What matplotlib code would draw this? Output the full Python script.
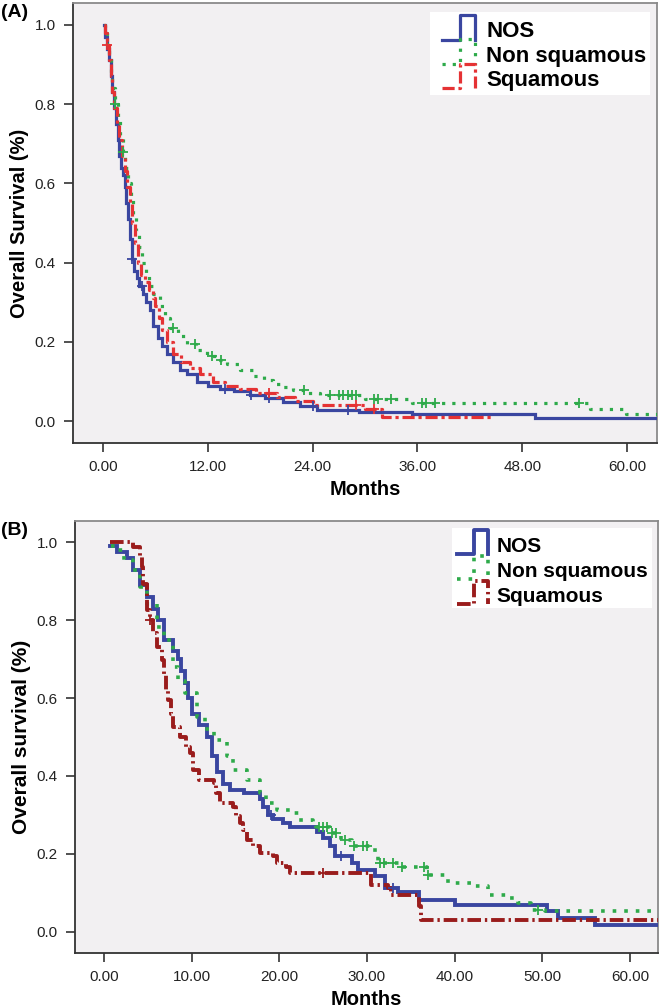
import numpy as np
import matplotlib
matplotlib.use("Agg")
import matplotlib.pyplot as plt
from matplotlib.legend_handler import HandlerBase
from matplotlib.lines import Line2D
from matplotlib.patches import Rectangle

plt.rcParams['font.family'] = ['Liberation Sans', 'DejaVu Sans']

# ---------------- data: panel A ----------------
a_nos_t = [0.2, 0.3, 0.5, 0.7, 0.9, 1.1, 1.3, 1.5, 1.7, 1.9, 2.1, 2.3, 2.5, 2.7, 2.9, 3.1, 3.3, 3.6, 3.9, 4.2,
           4.6, 5.0, 5.4, 5.8, 6.3, 6.8, 7.4, 8.0, 8.8, 9.6, 10.8, 12.0, 13.4, 15.0, 16.8, 18.6, 20.6, 22.6, 24.5,
           29.3, 35.4, 49.4, 64.0]
a_nos_s = [1.0, 0.97, 0.94, 0.91, 0.87, 0.83, 0.79, 0.75, 0.71, 0.67, 0.64, 0.62, 0.59, 0.55, 0.51, 0.46, 0.41,
           0.38, 0.36, 0.34, 0.32, 0.30, 0.28, 0.24, 0.21, 0.19, 0.17, 0.15, 0.13, 0.12, 0.10, 0.09, 0.08, 0.075,
           0.065, 0.058, 0.048, 0.038, 0.028, 0.022, 0.017, 0.008, 0.008]
a_non_t = [0.2, 0.3, 0.5, 0.7, 0.9, 1.1, 1.4, 1.7, 2.0, 2.3, 2.6, 2.9, 3.2, 3.5, 3.8, 4.1, 4.5, 4.9, 5.3, 5.8,
           6.5, 7.1, 7.7, 8.6, 9.6, 10.7, 11.9, 13.0, 14.2, 15.7, 17.2, 18.4, 19.5, 20.6, 21.8, 23.3, 24.9, 30.0,
           35.4, 55.7, 59.8, 64.0]
a_non_s = [1.0, 0.98, 0.95, 0.92, 0.88, 0.84, 0.80, 0.76, 0.72, 0.68, 0.64, 0.60, 0.56, 0.52, 0.48, 0.44, 0.40,
           0.37, 0.34, 0.32, 0.29, 0.26, 0.235, 0.215, 0.195, 0.18, 0.165, 0.155, 0.145, 0.13, 0.115, 0.105, 0.095,
           0.087, 0.078, 0.072, 0.065, 0.057, 0.045, 0.03, 0.018, 0.018]
a_sq_t = [0.2, 0.3, 0.5, 0.7, 0.9, 1.1, 1.3, 1.6, 1.9, 2.2, 2.5, 2.8, 3.1, 3.4, 3.7, 4.0, 4.4, 4.8, 5.3, 5.7,
          6.0, 6.4, 6.8, 7.3, 8.0, 9.0, 10.0, 11.1, 12.6, 14.0, 15.7, 17.5, 19.9, 22.0, 24.0, 30.0, 32.0, 44.5]
a_sq_s = [1.0, 0.98, 0.95, 0.91, 0.87, 0.83, 0.79, 0.75, 0.71, 0.67, 0.63, 0.59, 0.55, 0.50, 0.45, 0.40, 0.37,
          0.35, 0.33, 0.31, 0.29, 0.26, 0.23, 0.20, 0.17, 0.15, 0.135, 0.12, 0.10, 0.09, 0.08, 0.07, 0.06, 0.05,
          0.04, 0.03, 0.01, 0.01]
a_nos_cens = [3.3, 4.5, 14.0, 17.0, 19.0, 24.0, 28.0]
a_non_cens = [1.4, 2.3, 8.0, 10.5, 12.5, 13.5, 23.0, 26.0, 27.0, 27.5, 28.0, 28.5, 29.0, 31.0, 31.5, 33.0,
              36.5, 37.0, 38.0, 54.5]
a_sq_cens = [0.5, 19.0, 29.0, 31.0]

# ---------------- data: panel B ----------------
b_nos_t = [0.7, 1.5, 2.6, 3.3, 4.1, 4.9, 5.6, 6.2, 6.8, 7.9, 8.4, 8.8, 9.2, 9.6, 10.0, 10.9, 11.7, 12.3, 12.9,
           13.6, 14.4, 16.0, 17.8, 18.1, 18.7, 19.3, 20.4, 21.2, 24.3, 25.0, 25.8, 26.4, 28.3, 29.0, 30.9, 32.1,
           33.6, 35.9, 40.1, 50.5, 51.8, 56.0, 64.0]
b_nos_s = [0.99, 0.975, 0.96, 0.93, 0.89, 0.86, 0.83, 0.80, 0.75, 0.72, 0.70, 0.67, 0.64, 0.60, 0.56, 0.53,
           0.50, 0.45, 0.41, 0.38, 0.365, 0.355, 0.34, 0.32, 0.30, 0.29, 0.28, 0.27, 0.255, 0.24, 0.22, 0.193,
           0.175, 0.159, 0.142, 0.112, 0.103, 0.082, 0.069, 0.052, 0.035, 0.018, 0.018]
b_non_t = [0.8, 1.4, 2.3, 3.3, 4.1, 4.9, 6.0, 6.8, 7.9, 8.5, 9.2, 10.6, 11.5, 12.5, 14.0, 14.7, 16.3, 17.8,
           18.5, 19.7, 21.2, 22.3, 23.9, 25.8, 27.0, 28.3, 30.9, 31.3, 33.9, 36.9, 39.2, 41.9, 43.8, 46.1, 47.2,
           48.7, 50.3, 64.0]
b_non_s = [0.99, 0.98, 0.955, 0.928, 0.885, 0.843, 0.783, 0.749, 0.68, 0.645, 0.612, 0.552, 0.52, 0.492, 0.45,
           0.415, 0.39, 0.356, 0.33, 0.313, 0.304, 0.287, 0.27, 0.253, 0.235, 0.219, 0.202, 0.176, 0.167, 0.146,
           0.125, 0.117, 0.095, 0.086, 0.074, 0.056, 0.052, 0.052]
b_sq_t = [0.7, 3.3, 4.1, 4.3, 4.5, 4.9, 5.2, 5.6, 6.0, 6.6, 6.8, 7.1, 7.3, 7.6, 7.9, 8.7, 9.4, 9.8, 10.2, 10.9,
          12.5, 12.8, 13.2, 14.7, 15.1, 15.5, 15.9, 16.3, 17.0, 17.8, 19.3, 19.7, 20.8, 21.2, 30.5, 32.4, 32.7,
          35.9, 36.2, 64.0]
b_sq_s = [1.0, 0.988, 0.962, 0.937, 0.894, 0.826, 0.80, 0.766, 0.731, 0.697, 0.663, 0.62, 0.595, 0.56, 0.526,
          0.50, 0.475, 0.458, 0.415, 0.39, 0.381, 0.356, 0.33, 0.321, 0.296, 0.279, 0.262, 0.236, 0.219, 0.202,
          0.193, 0.176, 0.167, 0.15, 0.12, 0.112, 0.095, 0.065, 0.031, 0.031]
b_nos_cens = [19.0, 27.0, 33.0]
b_non_cens = [24.5, 25.0, 25.5, 26.0, 26.5, 27.5, 28.5, 29.5, 30.0, 31.5, 32.0, 33.0, 34.0, 36.5, 37.0, 49.5]
b_sq_cens = [5.3, 25.0]

labels = ["NOS", "Non squamous", "Squamous"]
a_xticks = [0, 12, 24, 36, 48, 60]
b_xticks = [0, 10, 20, 30, 40, 50, 60]
yticks = [0.0, 0.2, 0.4, 0.6, 0.8, 1.0]

BLUE = '#3A46A0'
GREEN = '#2EAA4A'
RED_A = '#E53234'
RED_B = '#9A1C1C'
BG = '#F2F0F2'
LW = 2.3

styles_A = [dict(color=BLUE, lw=LW, ls='-'),
            dict(color=GREEN, lw=LW, ls=(0, (1, 2.2))),
            dict(color=RED_A, lw=LW, ls=(0, (3.8, 1.2, 1, 1.2)))]
styles_B = [dict(color=BLUE, lw=LW + 0.5, ls='-'),
            dict(color=GREEN, lw=LW + 0.3, ls=(0, (1, 2.2))),
            dict(color=RED_B, lw=LW + 0.5, ls=(0, (3.5, 1.0, 0.6, 1.0)))]


def surv_at(t, s, x):
    idx = np.searchsorted(np.asarray(t), x, side='right') - 1
    idx = np.clip(idx, 0, len(s) - 1)
    return np.asarray(s)[idx]


class StepHandler(HandlerBase):
    def __init__(self, style):
        super().__init__()
        self.style = style

    def create_artists(self, legend, orig_handle, xdescent, ydescent, width, height, fontsize, trans):
        x0, x1 = -xdescent, -xdescent + width
        yl = -ydescent - 0.15 * height
        yh = -ydescent + 1.45 * height
        xm = x0 + 0.55 * width
        line = Line2D([x0, xm, xm, x1, x1], [yl, yl, yh, yh, yl], transform=trans,
                      color=self.style['color'], lw=self.style['lw'], ls=self.style['ls'])
        return [line]


fig = plt.figure(figsize=(6.64, 10.08), dpi=100)
fig.patch.set_facecolor('white')

axA = fig.add_axes([73 / 664, 1 - 443 / 1008, (657 - 73) / 664, (443 - 3) / 1008])
axB = fig.add_axes([75 / 664, 1 - 953 / 1008, (658 - 75) / 664, (953 - 521) / 1008])


def draw(ax, series, cens, styles, xticks, xlim, ylabel, ylsize, legsize, box, leg_kw):
    ax.set_facecolor(BG)
    handles = []
    for (t, s), c, st in zip(series, cens, styles):
        h, = ax.step(t, s, where='post', color=st['color'], lw=st['lw'], ls=st['ls'],
                     solid_joinstyle='miter', zorder=3)
        handles.append(h)
        cy = surv_at(t, s, c)
        ax.plot(c, cy, ls='none', marker='+', ms=7, mew=1.3, color=st['color'], zorder=4)
    ax.set_xlim(*xlim)
    ax.set_ylim(-0.055, 1.055)
    ax.set_xticks(xticks)
    ax.set_xticklabels([f"{v:.2f}" for v in xticks], fontsize=11, color='#222222')
    ax.set_yticks(yticks)
    ax.set_yticklabels([f"{v:.1f}" for v in yticks], fontsize=11, color='#222222')
    ax.tick_params(direction='out', length=6.5, width=1.2, color='#333333', pad=6)
    for side in ['left', 'bottom']:
        ax.spines[side].set_color('#333333')
        ax.spines[side].set_linewidth(1.3)
    for side in ['top', 'right']:
        ax.spines[side].set_color('#8A8A8A')
        ax.spines[side].set_linewidth(1.3)
    ax.set_xlabel("Months", fontsize=14.5, fontweight='bold', labelpad=4)
    ax.set_ylabel(ylabel, fontsize=ylsize, fontweight='bold', labelpad=4)
    bx0, by0, bx1, by1 = box
    ax.add_patch(Rectangle((bx0, by0), bx1 - bx0, by1 - by0, transform=ax.transAxes,
                           facecolor='white', edgecolor='none', zorder=5))
    leg = ax.legend(handles, labels, loc='upper right',
                    handler_map={h: StepHandler(st) for h, st in zip(handles, styles)},
                    prop=dict(size=legsize, weight='bold'), frameon=False, borderpad=0.0,
                    borderaxespad=0.0, **leg_kw)
    leg.set_zorder(6)
    return ax


draw(axA, [(a_nos_t, a_nos_s), (a_non_t, a_non_s), (a_sq_t, a_sq_s)],
     [a_nos_cens, a_non_cens, a_sq_cens], styles_A, a_xticks, (-3.4, 63.4), "Overall Survival (%)",
     14.5, 16, (0.611, 0.791, 0.988, 0.9795),
     dict(bbox_to_anchor=(0.982, 0.958), labelspacing=0.15, handlelength=1.5, handletextpad=0.5))
draw(axB, [(b_nos_t, b_nos_s), (b_non_t, b_non_s), (b_sq_t, b_sq_s)],
     [b_nos_cens, b_non_cens, b_sq_cens], styles_B, b_xticks, (-3.3, 63.2), "Overall survival (%)",
     15, 15, (0.6467, 0.7986, 0.9897, 0.9838),
     dict(bbox_to_anchor=(0.982, 0.964), labelspacing=0.3, handlelength=1.5, handletextpad=0.4))

fig.text(0.001, 1 - 4 / 1008, "(A)", fontsize=14, fontweight='bold', ha='left', va='top')
fig.text(0.001, 1 - 522 / 1008, "(B)", fontsize=14, fontweight='bold', ha='left', va='top')

fig.savefig("out.png", dpi=100)
